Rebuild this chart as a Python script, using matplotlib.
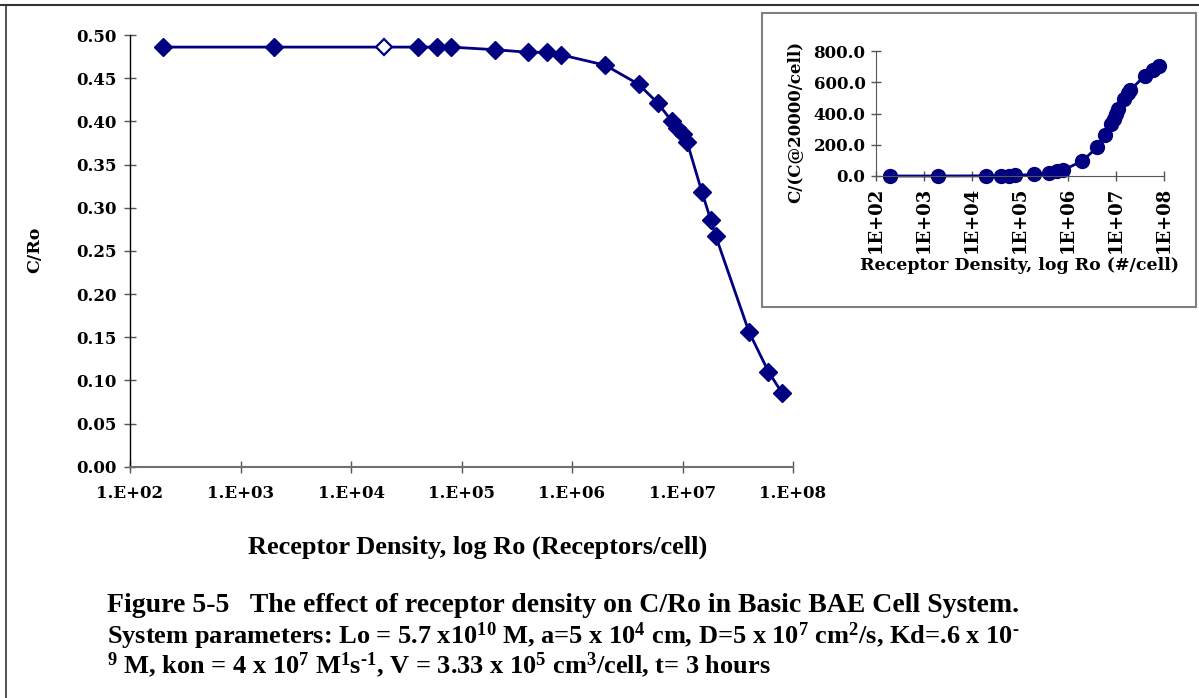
import matplotlib
matplotlib.use("Agg")
import matplotlib.pyplot as plt
from matplotlib.patches import Rectangle
from matplotlib.lines import Line2D

plt.rcParams["mathtext.fontset"] = "custom"
plt.rcParams["mathtext.rm"] = "Liberation Serif:bold"
plt.rcParams["mathtext.it"] = "Liberation Serif:bold"
plt.rcParams["mathtext.bf"] = "Liberation Serif:bold"
plt.rcParams["mathtext.default"] = "rm"

# main curve: receptor density (#/cell) vs C/Ro
ro = [2e2, 2e3, 2e4, 4e4, 6e4, 8e4, 2e5, 4e5, 6e5, 8e5, 2e6, 4e6, 6e6,
      8e6, 9e6, 1e7, 1.1e7, 1.5e7, 1.8e7, 2e7, 4e7, 6e7, 8e7]
c_ro = [0.486, 0.486, 0.486, 0.486, 0.486, 0.486, 0.483, 0.480, 0.480, 0.477,
        0.465, 0.443, 0.421, 0.400, 0.392, 0.385, 0.376, 0.318, 0.286, 0.267,
        0.156, 0.110, 0.085]
hollow = 2e4

# inset: C normalised to C at 20000/cell
ro_in = [2e2, 2e3, 2e4, 4e4, 6e4, 8e4, 2e5, 4e5, 6e5, 8e5, 2e6, 4e6, 6e6,
         8e6, 9e6, 1e7, 1.1e7, 1.5e7, 1.8e7, 2e7, 4e7, 6e7, 8e7]
c_rel = [0.0, 0.1, 1.0, 2.0, 3.0, 4.0, 10.0, 20.0, 30.0, 39.0, 96.0, 183.0,
         261.0, 331.0, 365.0, 398.0, 426.0, 491.0, 533.0, 550.0, 643.0,
         680.0, 701.0]

main_ticks = [1e2, 1e3, 1e4, 1e5, 1e6, 1e7, 1e8]
main_labels = ["1.E+02", "1.E+03", "1.E+04", "1.E+05", "1.E+06", "1.E+07", "1.E+08"]
inset_labels = ["1E+02", "1E+03", "1E+04", "1E+05", "1E+06", "1E+07", "1E+08"]
y_ticks = [0.0, 0.05, 0.10, 0.15, 0.20, 0.25, 0.30, 0.35, 0.40, 0.45, 0.50]
y_ticks_in = [0, 200, 400, 600, 800]

navy = "#000080"
tickfont = {"family": "DejaVu Serif", "weight": "bold", "size": 12}
capfont = {"family": "Liberation Serif", "weight": "bold"}

fig = plt.figure(figsize=(11.99, 6.98), dpi=100)

# ---- main axes
ax = fig.add_axes([130 / 1199, 1 - 466.7 / 698, 663 / 1199, 431.7 / 698])
ax.plot(ro, c_ro, color=navy, lw=2, zorder=2)
filled = [(r, v) for r, v in zip(ro, c_ro) if r != hollow]
ax.plot([p[0] for p in filled], [p[1] for p in filled], ls="none", marker="D",
        ms=9, color=navy, zorder=3)
ax.plot([r for r in ro if r == hollow], [v for r, v in zip(ro, c_ro) if r == hollow],
        ls="none", marker="D", ms=8, mfc="white", mec=navy, mew=1.6, zorder=3)
ax.set_xscale("log")
ax.set_xlim(1e2, 1e8)
ax.set_ylim(0, 0.5)
ax.set_xticks(main_ticks)
ax.set_xticklabels(main_labels, fontdict=tickfont)
ax.xaxis.set_minor_locator(matplotlib.ticker.NullLocator())
ax.set_yticks(y_ticks)
ax.set_yticklabels(["%.2f" % t for t in y_ticks], fontdict=tickfont)
for s in ["top", "right"]:
    ax.spines[s].set_visible(False)
ax.spines["bottom"].set_color("#707070")
ax.spines["bottom"].set_linewidth(1.5)
ax.spines["left"].set_color("black")
ax.spines["left"].set_linewidth(1.0)
ax.tick_params(axis="y", direction="inout", length=9, width=1, color="#555555", pad=5)
ax.tick_params(axis="x", direction="inout", length=9, width=1, color="#555555", pad=9)
for sp in ax.spines.values():
    sp.set_clip_on(False)

fig.text(35 / 1199, 1 - 250 / 698, "C/Ro", rotation=90, ha="center", va="center",
         fontdict=dict(tickfont, size=12.5))
fig.text(478 / 1199, 1 - 547 / 698, "Receptor Density, log Ro (Receptors/cell)",
         ha="center", va="center", fontdict=dict(capfont, size=19))

# ---- inset
fig.patches.append(Rectangle((762 / 1199, 1 - 306.5 / 698), 434 / 1199, 293.5 / 698,
                             transform=fig.transFigure, fill=False,
                             edgecolor="#808080", lw=1.5))
ax2 = fig.add_axes([876 / 1199, 1 - 176 / 698, 288 / 1199, 125 / 698])
ax2.plot(ro_in, c_rel, color=navy, lw=2, marker="o", ms=10)
ax2.set_xscale("log")
ax2.set_xlim(1e2, 1e8)
ax2.set_ylim(0, 800)
ax2.set_xticks(main_ticks)
ax2.set_xticklabels(inset_labels, rotation=90, fontdict=dict(tickfont, size=13))
ax2.xaxis.set_minor_locator(matplotlib.ticker.NullLocator())
ax2.set_yticks(y_ticks_in)
ax2.set_yticklabels(["%.1f" % t for t in y_ticks_in], fontdict=dict(tickfont, size=12))
for s in ["top", "right"]:
    ax2.spines[s].set_visible(False)
ax2.spines["left"].set_color("#555555")
ax2.spines["bottom"].set_color("#555555")
ax2.tick_params(direction="inout", length=7, width=1, color="#555555", pad=4)
for ln in ax2.lines:
    ln.set_clip_on(False)
fig.text(795 / 1199, 1 - 122 / 698, "C/(C@20000/cell)", rotation=90, ha="center",
         va="center", fontdict=dict(tickfont, size=12))
fig.text(1019 / 1199, 1 - 265 / 698, "Receptor Density, log Ro (#/cell)",
         ha="center", va="center", fontdict=dict(tickfont, size=12.5))

# ---- caption
fig.text(107 / 1199, 1 - 606 / 698,
         "Figure 5-5   The effect of receptor density on C/Ro in Basic BAE Cell System.",
         ha="left", va="center", fontdict=dict(capfont, size=20))
fig.text(107 / 1199, 1 - 636 / 698,
         r"System parameters: Lo = 5.7 x10$^{10}$ M, a=5 x 10$^{4}$ cm, "
         r"D=5 x 10$^{7}$ cm$^{2}$/s, Kd=.6 x 10$^{\text{-}}$",
         ha="left", va="center", fontdict=dict(capfont, size=19))
fig.text(107 / 1199, 1 - 665 / 698,
         r"$^{9}$ M, kon = 4 x 10$^{7}$ M$^{1}$s$^{\text{-}1}$, V = 3.33 x 10$^{5}$ cm$^{3}$/cell, t= 3 hours",
         ha="left", va="center", fontdict=dict(capfont, size=19))

# page frame bits
fig.add_artist(Line2D([0, 1], [1 - 5 / 698, 1 - 5 / 698], transform=fig.transFigure,
                      color="#333333", lw=1.5))
fig.add_artist(Line2D([6 / 1199, 6 / 1199], [0, 1 - 5 / 698], transform=fig.transFigure,
                      color="#333333", lw=1.2))

fig.savefig("out.png", dpi=100)
